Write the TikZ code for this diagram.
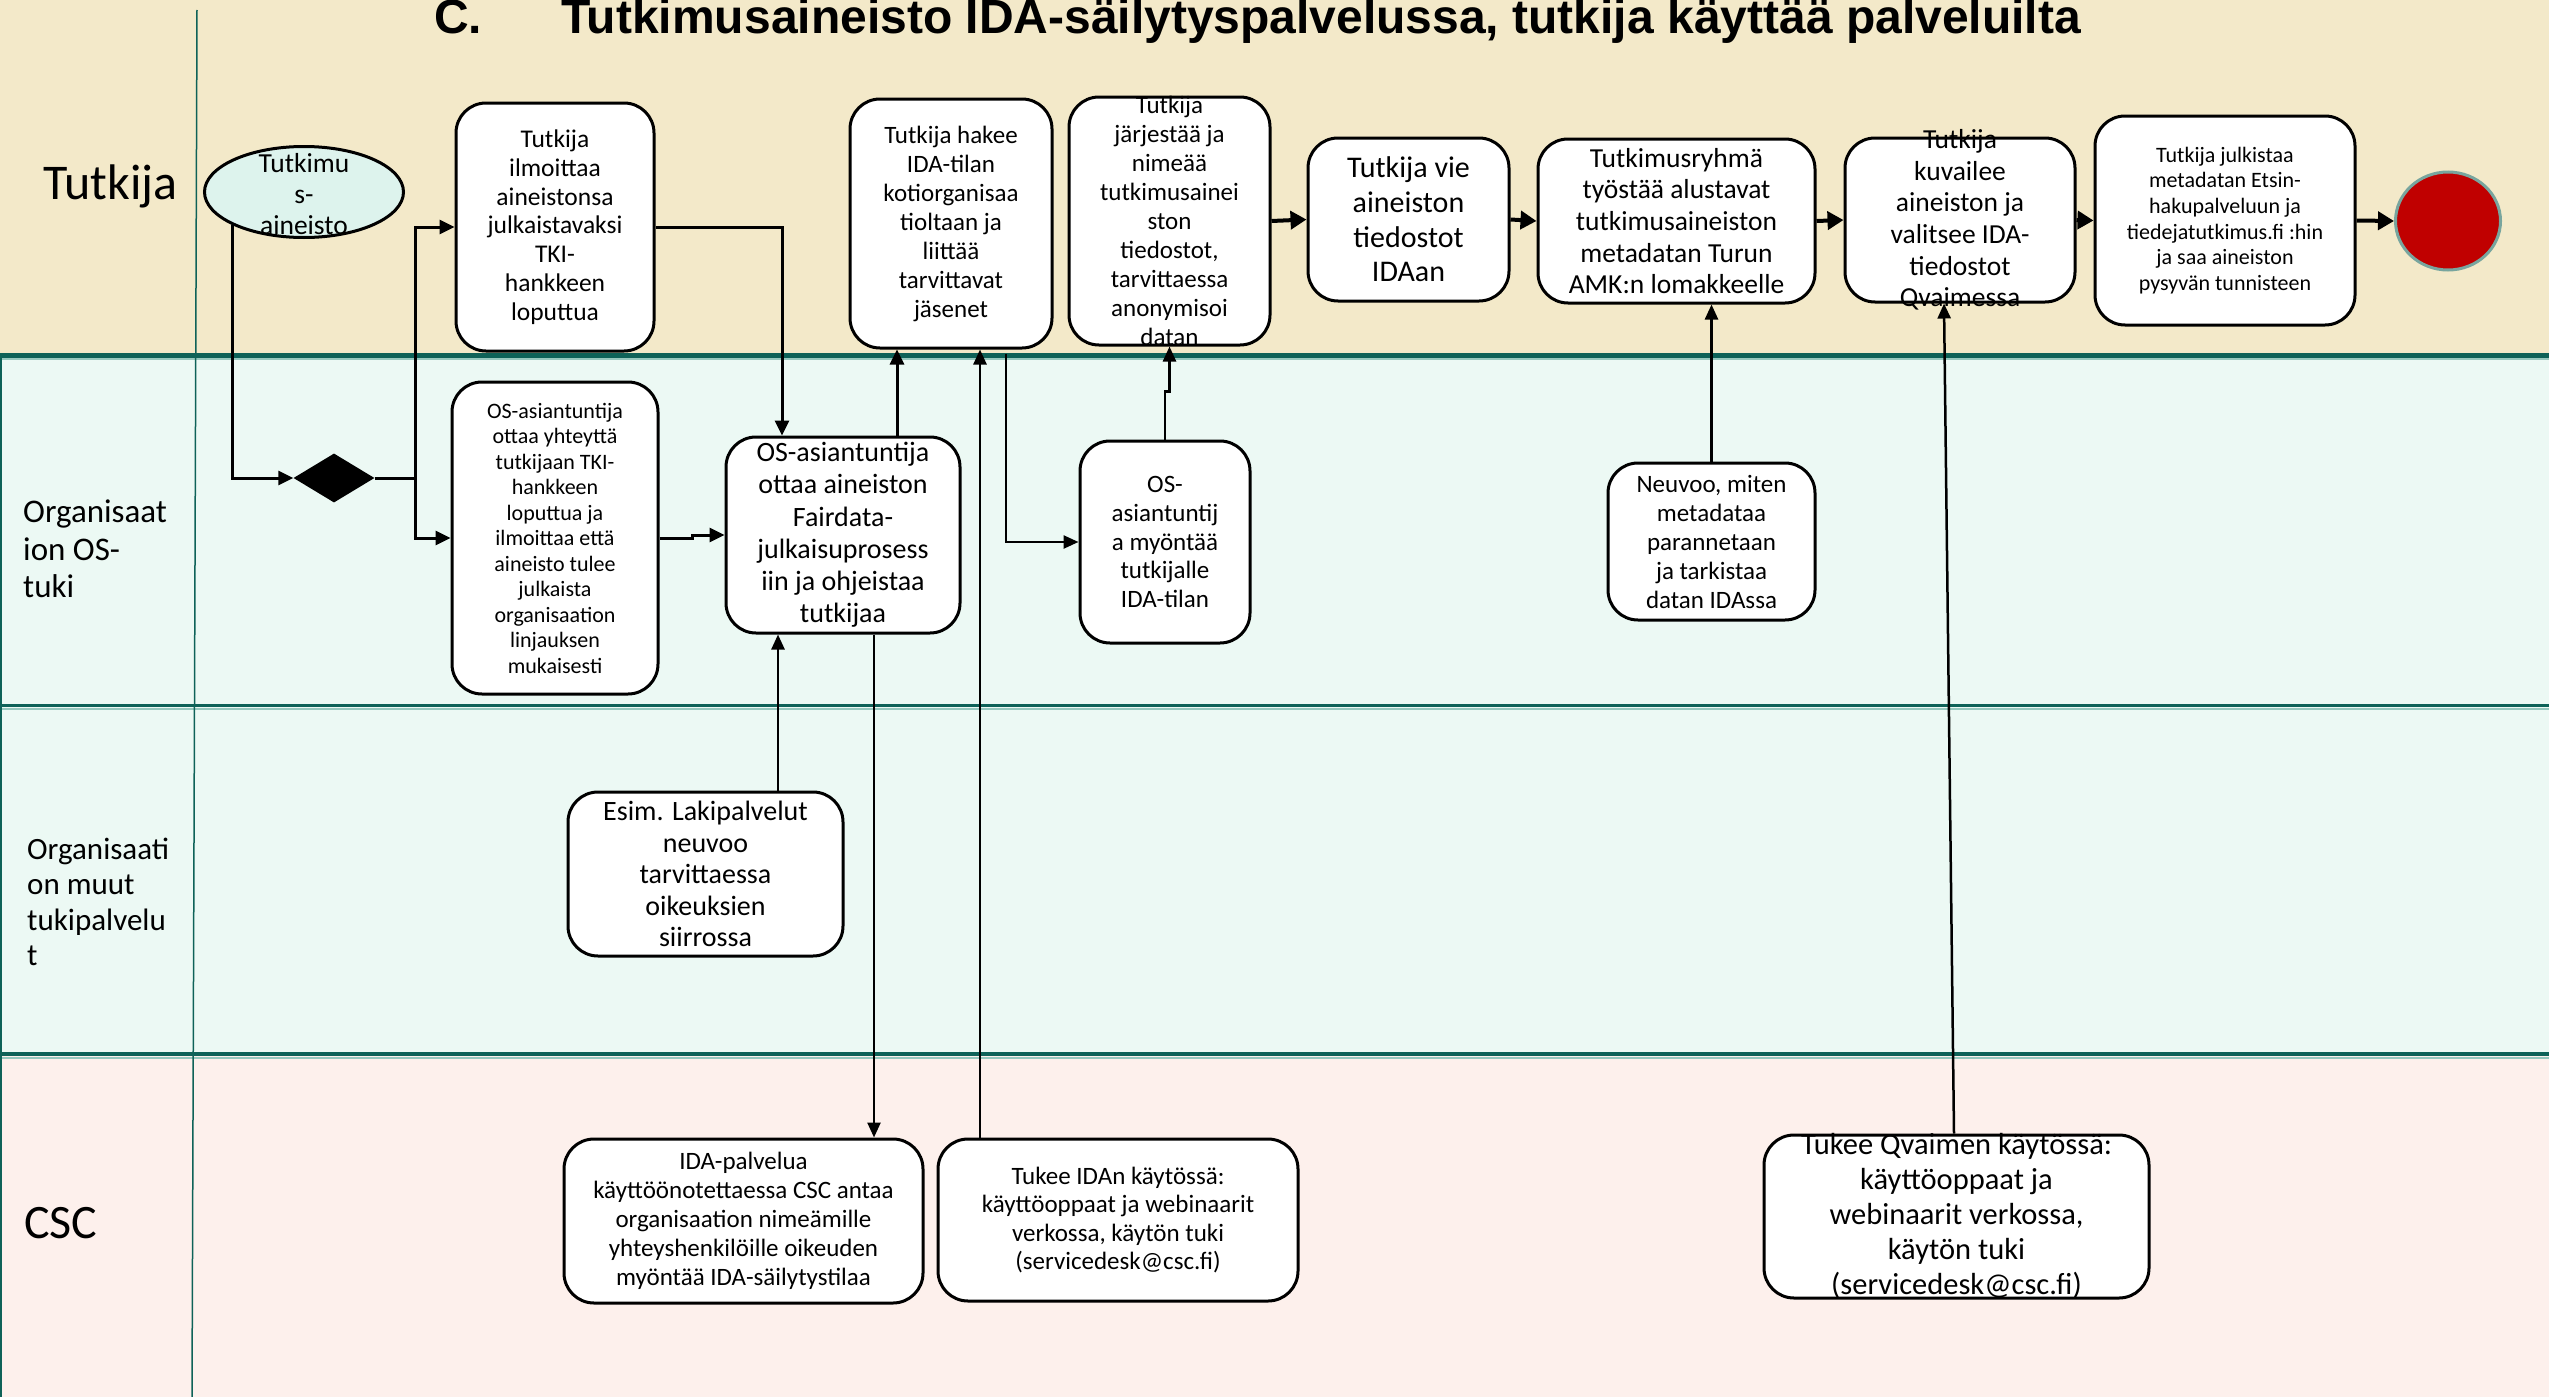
\documentclass[tikz,border=0pt]{standalone}
\usepackage{fontspec}
\setmainfont{Carlito}
\newfontfamily\titlefont{Liberation Sans}
\usetikzlibrary{arrows.meta,shapes.geometric}
\definecolor{laneA}{RGB}{243,233,201}
\definecolor{laneB}{RGB}{236,249,244}
\definecolor{laneC}{RGB}{253,240,236}
\definecolor{teal1}{RGB}{14,98,88}
\definecolor{teal2}{RGB}{150,200,190}
\definecolor{ellfill}{RGB}{221,243,237}
\definecolor{endred}{RGB}{192,0,0}
\definecolor{endrim}{RGB}{120,165,158}
\tikzset{
  pbox/.style={draw=black, line width=3pt, fill=white, rounded corners=30pt, inner sep=0pt},
  txt/.style={align=center, inner sep=0pt},
  flow/.style={line width=4pt, -{Triangle[length=16pt,width=18pt]}},
  conn/.style={line width=3pt, -{Triangle[length=15pt,width=14pt]}},
  thinc/.style={line width=2.5pt, -{Triangle[length=15pt,width=13pt]}},
  plain/.style={line width=3pt},
}
\newcommand\mkbox[8]{%
  \node[pbox, minimum width={#4-#2}, minimum height={#5-#3}] (#1) at ({(#2+#4)/2},{(#3+#5)/2}) {};
  \node[txt, font=\fontsize{#6}{#7}\selectfont] (#1t) at (#1.center) {#8};}
\begin{document}
\begin{tikzpicture}[x=1pt, y=-1pt]
\useasboundingbox (0,0) rectangle (2549,1397);
% lanes
\fill[laneA] (0,0) rectangle (2549,355);
\fill[laneB] (0,355) rectangle (2549,1054);
\fill[laneC] (0,1054) rectangle (2549,1397);
\draw[teal2, line width=2pt] (0,359) -- (2549,359);
\draw[teal2, line width=2pt] (0,708.5) -- (2549,708.5);
\draw[teal2, line width=2pt] (0,1057.5) -- (2549,1057.5);
\draw[teal1, line width=4.5pt] (0,355.5) -- (2549,355.5);
\draw[teal1, line width=3.5pt] (0,705.5) -- (2549,705.5);
\draw[teal1, line width=3.5pt] (0,1054) -- (2549,1054);
\draw[teal1, line width=2pt] (1,355) -- (1,1397);
\draw[teal1, line width=1.5pt] (197,10) -- (192,1397);

% title
\node[anchor=base west, inner sep=0pt, font=\titlefont\bfseries\fontsize{48}{50}\selectfont] (tc) at (434,34) {C.};
\node[anchor=base west, inner sep=0pt, font=\titlefont\bfseries\fontsize{48}{50}\selectfont] (tt) at (561,34) {Tutkimusaineisto IDA-säilytyspalvelussa, tutkija käyttää palveluilta};

% lane labels
\node[anchor=base west, inner sep=0pt, font=\fontsize{50}{55}\selectfont] (l1) at (43,199) {Tutkija};
\node[anchor=west, align=left, inner sep=0pt, font=\fontsize{33}{37.5}\selectfont] (l2) at (23,549) {Organisaat\\ion OS-\\tuki};
\node[anchor=west, align=left, inner sep=0pt, font=\fontsize{31}{35.5}\selectfont] (l3) at (27,902) {Organisaati\\on muut\\tukipalvelu\\t};
\node[anchor=base west, inner sep=0pt, font=\fontsize{48}{52}\selectfont] (l4) at (24,1238) {CSC};

% start event and gateway
\node[ellipse, draw, line width=3pt, fill=ellfill, minimum width=199pt, minimum height=91pt, inner sep=0pt] (ell) at (304,192) {};
\node[txt, font=\fontsize{27.5}{31}\selectfont] (ellt) at (304,194) {Tutkimu\\s-\\aineisto};
\node[diamond, fill=black, minimum width=81pt, minimum height=49pt, inner sep=0pt, shape aspect=1.65] (dia) at (334,478) {};

% Tutkija lane boxes
\mkbox{b1}{456}{103}{654}{351}{25.5}{28.8}{Tutkija\\ilmoittaa\\aineistonsa\\julkaistavaksi\\TKI-\\hankkeen\\loputtua}
\mkbox{b2}{850}{99}{1052}{348}{25}{29}{Tutkija hakee\\IDA-tilan\\kotiorganisaa\\tioltaan ja\\liittää\\tarvittavat\\jäsenet}
\mkbox{b3}{1069}{97}{1270}{345}{25}{29}{Tutkija\\järjestää ja\\nimeää\\tutkimusainei\\ston\\tiedostot,\\tarvittaessa\\anonymisoi\\datan}
\mkbox{b4}{1308}{138}{1509}{301}{30}{34.7}{Tutkija vie\\aineiston\\tiedostot\\IDAan}
\mkbox{b5}{1538}{139}{1815}{303}{27.5}{31.7}{Tutkimusryhmä\\työstää alustavat\\tutkimusaineiston\\metadatan Turun\\AMK:n lomakkeelle}
\mkbox{b6}{1845}{138}{2075}{302}{27.5}{31.6}{Tutkija\\kuvailee\\aineiston ja\\valitsee IDA-\\tiedostot\\Qvaimessa}
\mkbox{b7}{2095}{116}{2355}{325}{22}{25.6}{Tutkija julkistaa\\metadatan Etsin-\\hakupalveluun ja\\tiedejatutkimus.fi :hin\\ja saa aineiston\\pysyvän tunnisteen}
\node[ellipse, draw=endrim, line width=3pt, fill=endred, minimum width=105pt, minimum height=98pt, inner sep=0pt] (end) at (2448,221) {};

% OS-tuki lane
\mkbox{b9}{452}{382}{658}{694}{22}{25.5}{OS-asiantuntija\\ottaa yhteyttä\\tutkijaan TKI-\\hankkeen\\loputtua ja\\ilmoittaa että\\aineisto tulee\\julkaista\\organisaation\\linjauksen\\mukaisesti}
\mkbox{b10}{726}{437}{960}{633}{28}{32.2}{OS-asiantuntija\\ottaa aineiston\\Fairdata-\\julkaisuprosess\\iin ja ohjeistaa\\tutkijaa}
\mkbox{b11}{1080}{441}{1250}{643}{25}{28.7}{OS-\\asiantuntij\\a myöntää\\tutkijalle\\IDA-tilan}
\mkbox{b12}{1608}{463}{1815}{620}{25}{29}{Neuvoo, miten\\metadataa\\parannetaan\\ja tarkistaa\\datan IDAssa}

% muut lane
\mkbox{b13}{568}{792}{843}{956}{28}{31.6}{Esim. Lakipalvelut\\neuvoo\\tarvittaessa\\oikeuksien\\siirrossa}

% CSC lane
\mkbox{b14}{564}{1139}{923}{1303}{25}{29}{IDA-palvelua\\käyttöönotettaessa CSC antaa\\organisaation nimeämille\\yhteyshenkilöille oikeuden\\myöntää IDA-säilytystilaa}
\mkbox{b15}{938}{1139}{1298}{1301}{25}{28.3}{Tukee IDAn käytössä:\\käyttöoppaat ja webinaarit\\verkossa, käytön tuki\\(servicedesk@csc.fi)}
\mkbox{b16}{1764}{1135}{2149}{1298}{30.5}{35}{Tukee Qvaimen käytössä:\\käyttöoppaat ja\\webinaarit verkossa,\\käytön tuki\\(servicedesk@csc.fi)}

% helper coordinates
\coordinate (sp) at (415,478);
\coordinate (x782) at (782,0);
\coordinate (x897) at (897,0);
\coordinate (x980) at (980,0);
\coordinate (x1006) at (1006,0);
\coordinate (x778) at (778,0);
\coordinate (x874) at (874,0);
\coordinate (x1954) at (1954,0);
\coordinate (x1944) at (1944,0);

% connectors
\draw[conn] (ell.205) |- (dia.west);
\draw[plain] (dia.east) -- (sp);
\draw[conn] (sp) |- (b1.west);
\draw[conn] (sp) |- (b9.west);
\draw[conn] (b1.east) -| (b10.north -| x782);
\draw[conn] (b9.east) -- ++(33,0) |- (b10.west);
\draw[conn] (b10.north -| x897) -- (b2.south -| x897);
\draw[thinc] (b15.north -| x980) -- (b2.south -| x980);
\draw[thinc] ([yshift=-4pt]b2.south -| x1006) |- (b11.west);
\draw[thinc] (b11.north) -- ++(0,-48) -| (b3.south);
\draw[thinc] (b10.south -| x874) -- (b14.north -| x874);
\draw[thinc] (b13.north -| x778) -- (b10.south -| x778);
\draw[thinc] (b12.north) -- (b12.north |- b5.south);
\draw[thinc] (b16.north -| x1954) -- (b6.south -| x1944);

\draw[flow] (b3.east) -- (b4.west);
\draw[flow] (b4.east) -- (b5.west);
\draw[flow] (b5.east) -- (b6.west);
\draw[flow] (b6.east) -- (b7.west);
\draw[flow] (b7.east) -- (end.west);
\end{tikzpicture}
\end{document}
